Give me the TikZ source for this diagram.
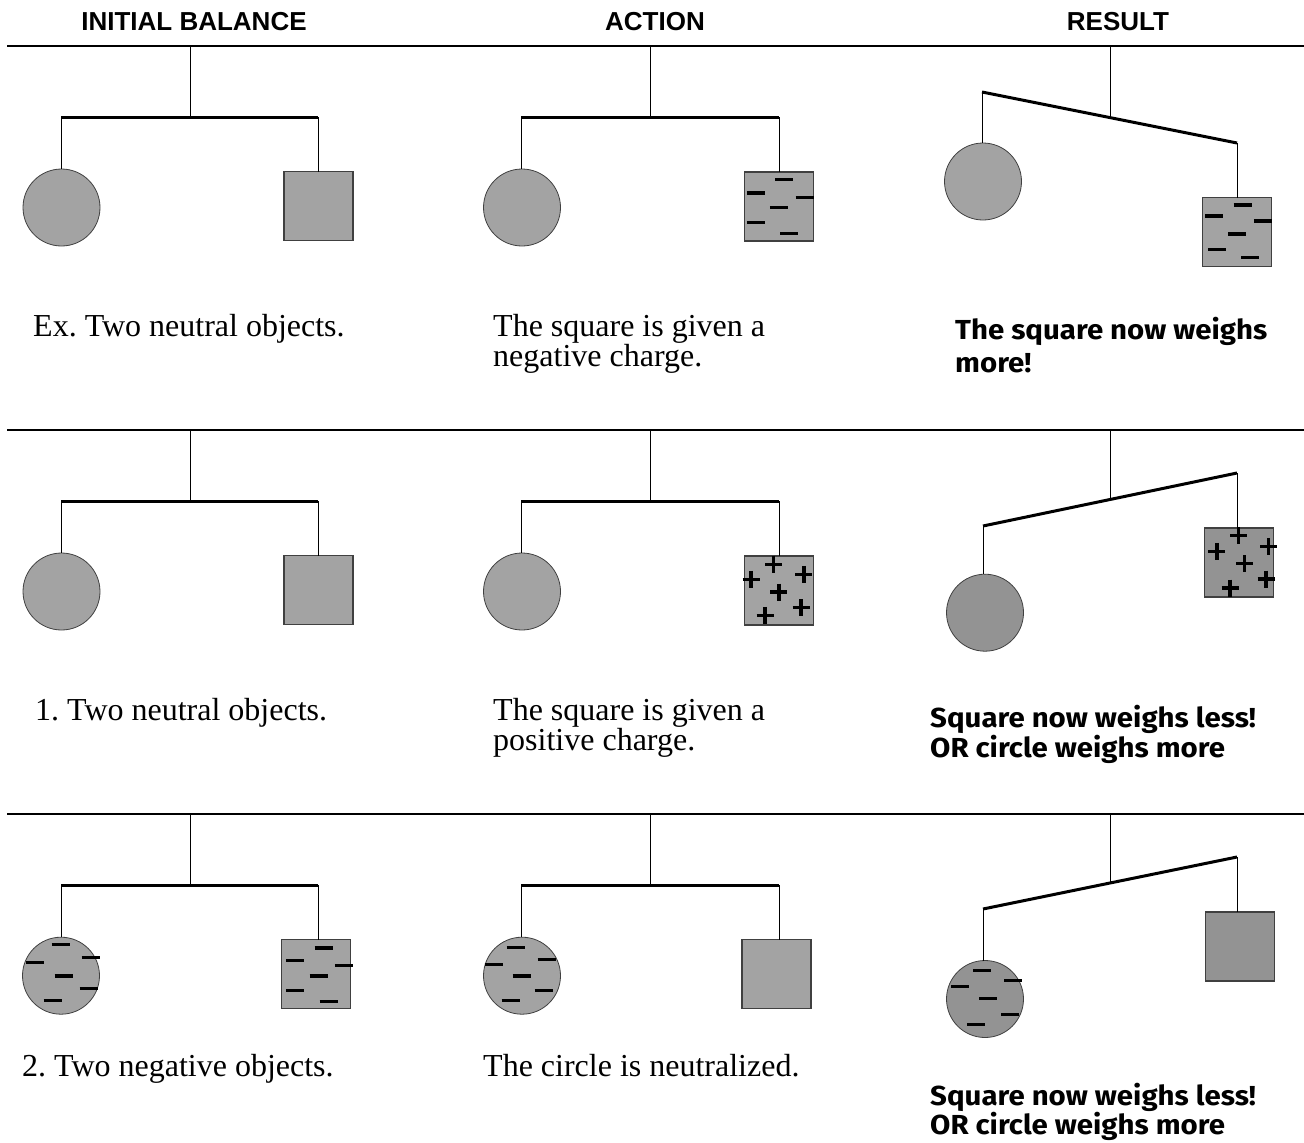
\documentclass[tikz,border=0pt]{standalone}
\usepackage{fontspec}
\setmainfont{Liberation Serif}
\newfontfamily\hdfont{Liberation Sans}
\newfontfamily\comicfont{Fira Sans}[FakeStretch=1.07]
\frenchspacing
\definecolor{lightfill}{HTML}{A3A3A3}
\definecolor{darkfill}{HTML}{939393}
\definecolor{edge}{HTML}{404040}
\newcommand\mobile[8]{%
  \coordinate (#1top) at #2; \coordinate (#1piv) at #3;
  \coordinate (#1L) at #4; \coordinate (#1R) at #5;
  \node[ball,#8] (#1c) at #6 {};
  \node[block,#8] (#1s) at #7 {};
  \draw[stem] (#1top) -- (#1piv);
  \draw[stem] (#1L) -- (#1L |- #1c.north);
  \draw[stem] (#1R) -- (#1R |- #1s.north);
  \draw[beam] (#1L) -- (#1R);
}
\newcommand\negmarks[2]{\foreach \p/\q in {#2}{\draw[charge] ([shift={(\p-9,\q)}]#1) -- ++(18,0);}}
\newcommand\posmarks[2]{\foreach \p/\q in {#2}{\draw[charge] ([shift={(\p-8.5,\q)}]#1) -- ++(17,0); \draw[charge] ([shift={(\p,\q-8.5)}]#1) -- ++(0,17);}}
\begin{document}
\frenchspacing
\begin{tikzpicture}[x=1pt,y=-1pt,
  divider/.style={line width=1.1pt},
  stem/.style={line width=1pt},
  beam/.style={line width=3pt},
  ball/.style={circle,draw=edge,line width=0.8pt,fill=lightfill,minimum size=77pt,inner sep=0pt,outer sep=0pt},
  block/.style={rectangle,draw=edge,line width=1.4pt,fill=lightfill,minimum size=69pt,inner sep=0pt,outer sep=0pt},
  dark/.style={fill=darkfill},
  charge/.style={line width=3.5pt},
  hd/.style={font=\hdfont\bfseries\fontsize{26}{30}\selectfont,anchor=base,inner sep=0pt},
  body/.style={font=\fontsize{32}{30}\selectfont,anchor=base west,inner sep=0pt},
  comic/.style={font=\comicfont\bfseries\fontsize{27.5}{33}\selectfont,anchor=base west,inner sep=0pt}]
\useasboundingbox (0,0) rectangle (1304,1143);
% headers
\node[hd] (h1) at (194,30.7) {INITIAL BALANCE};
\node[hd] (h2) at (655,30.7) {ACTION};
\node[hd] (h3) at (1118,30.7) {RESULT};
% dividers
\draw[divider] (7,46) -- (1304,46);
\draw[divider] (7,430) -- (1304,430);
\draw[divider] (7,814) -- (1304,814);
% row 0
\mobile{a0}{(190,47)}{(190,117)}{(61,117)}{(318,117)}{(61.5,207.5)}{(318.5,206)}{}
\mobile{b0}{(650,47)}{(650,117)}{(521,117)}{(779,117)}{(522,207.5)}{(779,206.5)}{}
\mobile{c0}{(1110,47)}{(1110,117.6)}{(982,92)}{(1237,143)}{(983,181.5)}{(1237,232)}{}
\negmarks{b0s.north west}{39.7/7.7,11.3/21,60/25.7,34.3/35.7,11.3/50.7,44.7/61.7}
\negmarks{c0s.north west}{40/7.7,11.7/18.7,60.3/23.7,34.7/36.7,14.7/52,47.7/60}
\node[body] (t0a) at (33,336) {Ex. Two neutral objects.};
\node[body] (t0b1) at (493,336) {The square is given a};
\node[body] (t0b2) at (493,366) {negative charge.};
\node[comic] (t0c1) at (955,339) {The square now weighs};
\node[comic] (t0c2) at (955,372) {more!};
% row 1
\mobile{a1}{(190,431)}{(190,501)}{(61,501)}{(318,501)}{(61.5,591.5)}{(318.5,590)}{}
\mobile{b1}{(650,431)}{(650,501)}{(521,501)}{(779,501)}{(522,591.5)}{(779,590.5)}{}
\mobile{c1}{(1110,431)}{(1110,499.5)}{(983,526)}{(1237,473)}{(985,612.7)}{(1239,562.5)}{dark}
\posmarks{b1s.north west}{29/8.3,6.7/23.3,59.3/18.3,34.3/36,56.7/51.7,20.7/59.3}
\posmarks{c1s.north west}{34/7.7,12.3/23.3,64/18.3,40/35.7,61.7/51,25.7/60}
\node[body] (t1a) at (35,720) {1. Two neutral objects.};
\node[body] (t1b1) at (493,720) {The square is given a};
\node[body] (t1b2) at (493,750) {positive charge.};
\node[comic] (t1c1) at (930,727) {Square now weighs less!};
\node[comic] (t1c2) at (930,757) {OR circle weighs more};
% row 2
\mobile{a2}{(190,815)}{(190,885)}{(61,885)}{(318,885)}{(61,975.7)}{(316,974)}{}
\mobile{b2}{(650,815)}{(650,885)}{(521,885)}{(779,885)}{(522,975.7)}{(776.5,974)}{}
\mobile{c2}{(1110,815)}{(1110,883)}{(983,909)}{(1237,857)}{(985,999)}{(1240,946.5)}{dark}
\negmarks{a2c.center}{-0.3/-31,-25.7/-13,29.7/-18,2.7/0.3,27.7/13,-8.3/25}
\negmarks{a2s.north west}{42/8.3,13.7/21,62.3/26,37/36.3,13.7/51,47/62}
\negmarks{b2c.center}{-6.3/-28,24.7/-16,-28.3/-11,-0.3/0.3,21.7/15,-11.3/25}
\negmarks{c2c.center}{-3/-28.3,28/-18.3,-25/-12.3,3/-0.3,25/15.7,-9/25.7}
\node[body] (t2a) at (22,1076) {2. Two negative objects.};
\node[body] (t2b) at (483,1076) {The circle is neutralized.};
\node[comic] (t2c1) at (930,1105) {Square now weighs less!};
\node[comic] (t2c2) at (930,1134) {OR circle weighs more};
\end{tikzpicture}
\end{document}
